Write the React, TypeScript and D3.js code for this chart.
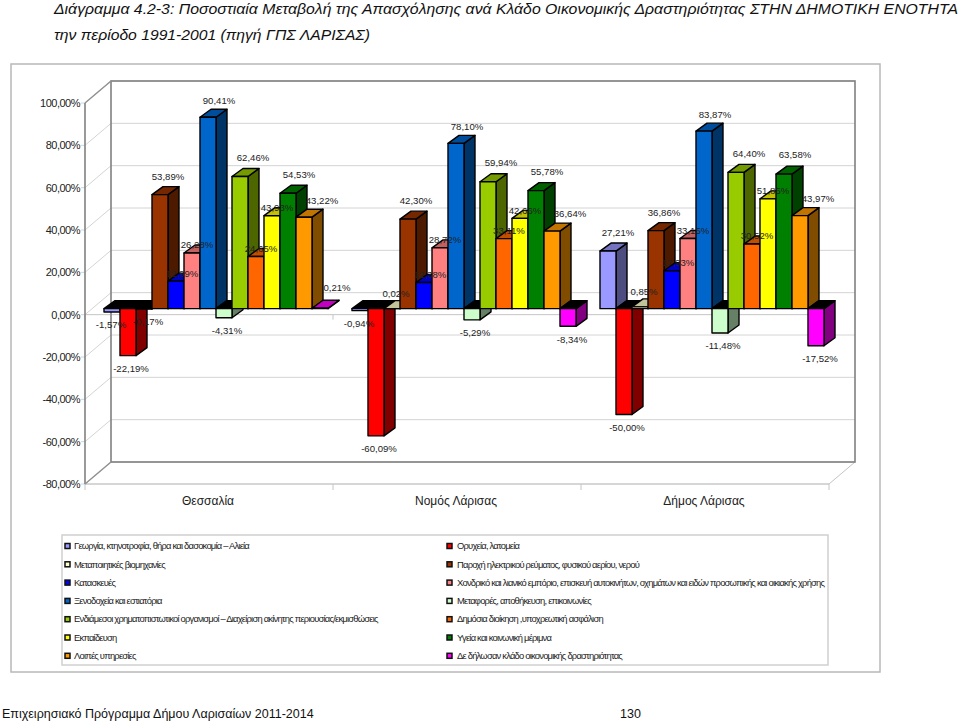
import React from "react";
import * as d3 from "d3";

const categories = ["Θεσσαλία", "Νομός Λάρισας", "Δήμος Λάρισας"];
const seriesNames = [
  "Γεωργία, κτηνοτροφία, θήρα και δασοκομία – Αλιεία",
  "Ορυχεία, λατομεία",
  "Μεταποιητικές  βιομηχανίες",
  "Παροχή ηλεκτρικού ρεύματος, φυσικού αερίου, νερού",
  "Κατασκευές",
  "Χονδρικό και λιανικό εμπόριο, επισκευή αυτοκινήτων, οχημάτων και ειδών προσωπικής και οικιακής χρήσης",
  "Ξενοδοχεία  και εστιατόρια",
  "Μεταφορές, αποθήκευση, επικοινωνίες",
  "Ενδιάμεσοι χρηματοπιστωτικοί οργανισμοί – Διαχείριση ακίνητης περιουσίας/εκμισθώσεις",
  "Δημόσια διοίκηση ,υποχρεωτική ασφάλιση",
  "Εκπαίδευση",
  "Υγεία και κοινωνική μέριμνα",
  "Λοιπές υπηρεσίες",
  "Δε δήλωσαν κλάδο οικονομικής δραστηριότητας",
];
const seriesColors = ["#9999FF", "#FF0000", "#FFFFCC", "#993300", "#0000FF", "#FF8080", "#0066CC", "#CCFFCC", "#99CC00", "#FF6600", "#FFFF00", "#008000", "#FF9900", "#FF00FF"];
const thessalia = [-1.57, -22.19, -0.17, 53.89, 12.99, 26.28, 90.41, -4.31, 62.46, 24.65, 43.93, 54.53, 43.22, 0.21];
const nomos = [-0.94, -60.09, 0.02, 42.3, 12.38, 28.72, 78.1, -5.29, 59.94, 33.11, 42.66, 55.78, 36.64, -8.34];
const dimos = [27.21, -50.0, 0.85, 36.86, 17.93, 33.15, 83.87, -11.48, 64.4, 30.52, 51.85, 63.58, 43.97, -17.52];
const groupValues = [thessalia, nomos, dimos];
const yTicks = [100, 80, 60, 40, 20, 0, -20, -40, -60, -80];
const titleLines = [
  "Διάγραμμα 4.2-3: Ποσοστιαία Μεταβολή της Απασχόλησης ανά Κλάδο Οικονομικής Δραστηριότητας ΣΤΗΝ ΔΗΜΟΤΙΚΗ ΕΝΟΤΗΤΑ",
  "την περίοδο 1991-2001 (πηγή ΓΠΣ ΛΑΡΙΣΑΣ)",
];
const footerLeft = "Επιχειρησιακό Πρόγραμμα Δήμου Λαρισαίων 2011-2014";
const footerPage = "130";

// label placement, per series, relative to the bar
const labelShiftUp = [10, 3, 4, 8, 6, 5, 11, 3, 13, 5, 5, 11, 18, 17];
const labelShiftDown = [-1, 3, 4, 8, 6, 5, 11, 3, 13, 5, 5, 11, 18, 4];
const labelRise = [18, 18, 15, 18, 8, 8, 17, 18, 19, 8, 8, 19, 17, 21];

const font = "'Liberation Sans', Arial, sans-serif";
const left = 85, right = 829, top = 103, bottom = 484;
const wallDx = 26, wallDy = -22;
const planeDx = 7, planeDy = -6;
const barDx = 11, barDy = -8;

const y = d3.scaleLinear().domain([-80, 100]).range([bottom, top]);
const xGroup = d3.scaleBand<string>().domain(categories).range([left, right]);
const xBar = d3.scaleBand<string>().domain(seriesNames).range([12, 236]);
const pct = (v: number) => d3.format(".2f")(v).replace("−", "-").replace(".", ",") + "%";
const poly = (pts: number[][]) => pts.map((p) => p.join(",")).join(" ");
const shade = (c: string, f: number) => {
  const r = d3.rgb(c);
  return d3.rgb(r.r * f, r.g * f, r.b * f).formatHex();
};

function Bar({ x, w, v, color }: { x: number; w: number; v: number; color: string }) {
  const y0 = y(0) + planeDy;
  const y1 = y(v) + planeDy;
  const t = Math.min(y0, y1);
  const b = Math.max(y0, y1);
  const sw = 1.4;
  return (
    <g stroke="#000" strokeWidth={sw} strokeLinejoin="round">
      <polygon points={poly([[x + w, t], [x + w + barDx, t + barDy], [x + w + barDx, b + barDy], [x + w, b]])} fill={shade(color, 0.5)} />
      <polygon points={poly([[x, t], [x + barDx, t + barDy], [x + w + barDx, t + barDy], [x + w, t]])} fill={v < 0 ? "#000" : shade(color, 0.76)} />
      <rect x={x} y={t} width={w} height={b - t} fill={color} />
    </g>
  );
}

export default function App() {
  const w = xBar.bandwidth();
  const legendRows = d3.range(7);
  return (
    <svg width={960} height={721} viewBox="0 0 960 721" style={{ position: "absolute", left: 0, top: 0, background: "#fff" }} fontFamily={font}>
      <text x={54} y={14} fontSize={15.5} fontStyle="italic" fill="#111" textLength={904} lengthAdjust="spacingAndGlyphs">{titleLines[0]}</text>
      <text x={54} y={40} fontSize={15.5} fontStyle="italic" fill="#111" textLength={316} lengthAdjust="spacingAndGlyphs">{titleLines[1]}</text>

      <rect x={11} y={64} width={869} height={608} fill="none" stroke="#b8b8b8" strokeWidth={1.5} />

      {/* back wall grid */}
      {yTicks.map((t) => (
        <g key={t} stroke="#d4d4d4" strokeWidth={1}>
          <line x1={left + wallDx} x2={right + wallDx} y1={y(t) + wallDy} y2={y(t) + wallDy} />
          <line x1={left} x2={left + wallDx} y1={y(t)} y2={y(t) + wallDy} />
          <line x1={left - 4} x2={left} y1={y(t)} y2={y(t)} />
        </g>
      ))}
      {/* floor and ticks */}
      <line x1={left} x2={right} y1={y(0)} y2={y(0)} stroke="#c4c4c4" />
      <line x1={left} x2={right} y1={bottom} y2={bottom} stroke="#c8c8c8" strokeWidth={1.5} />
      {[...categories.map((c) => xGroup(c)!), right].map((tx) => (
        <g key={tx} stroke="#c4c4c4">
          <line x1={tx} x2={tx} y1={y(0)} y2={y(0) + 5} />
          <line x1={tx} x2={tx} y1={bottom} y2={bottom + 6} />
        </g>
      ))}
      <line x1={right} x2={right + wallDx} y1={bottom} y2={bottom + wallDy} stroke="#c4c4c4" />
      {/* walls */}
      <rect x={left + wallDx} y={top + wallDy} width={right - left} height={bottom - top} fill="none" stroke="#808080" strokeWidth={1.6} />
      <line x1={left} x2={left} y1={top} y2={bottom} stroke="#808080" strokeWidth={1.6} />
      <line x1={left} x2={left + wallDx} y1={top} y2={top + wallDy} stroke="#909090" strokeWidth={1.4} />
      <line x1={left} x2={left + wallDx} y1={bottom} y2={bottom + wallDy} stroke="#909090" strokeWidth={1.4} />

      {/* bars */}
      {categories.map((c, gi) =>
        seriesNames.map((s, si) => (
          <Bar key={c + s} x={xGroup(c)! + planeDx + xBar(s)!} w={w} v={groupValues[gi][si]} color={seriesColors[si]} />
        ))
      )}

      {/* y tick labels */}
      {yTicks.map((t) => (
        <text key={t} x={80} y={y(t)} dy="0.35em" textAnchor="end" fontSize={11} letterSpacing={-0.5} fill="#222">
          {pct(t)}
        </text>
      ))}

      {/* data labels */}
      {categories.map((c, gi) =>
        seriesNames.map((s, si) => {
          const v = groupValues[gi][si];
          const cx = xGroup(c)! + planeDx + xBar(s)! + w / 2;
          const yv = y(v) + planeDy;
          return (
            <text
              key={c + s}
              x={cx + (v < 0 ? labelShiftDown[si] : labelShiftUp[si])}
              y={v < 0 ? yv + 13 : yv - labelRise[si]}
              dy="0.35em"
              textAnchor="middle"
              fontSize={9.6}
              fill="#222"
            >
              {pct(v)}
            </text>
          );
        })
      )}

      {/* category labels */}
      {categories.map((c) => (
        <text key={c} x={xGroup(c)! + xGroup.bandwidth() / 2 - 1} y={505} textAnchor="middle" fontSize={12} fill="#222">
          {c}
        </text>
      ))}

      {/* legend */}
      <rect x={62} y={535} width={766} height={130} fill="#fff" stroke="#d0d0d0" strokeWidth={1.5} />
      {legendRows.map((r) =>
        [0, 1].map((col) => {
          const i = r * 2 + col;
          const ly = 546 + r * 18.3;
          const mx = col === 0 ? 65 : 447;
          return (
            <g key={i}>
              <rect x={mx} y={ly - 2.5} width={5} height={5} fill={seriesColors[i]} stroke="#111" strokeWidth={1.5} />
              <text x={mx + (col === 0 ? 9 : 10)} y={ly} dy="0.35em" fontSize={9.4} letterSpacing={-0.78} fill="#222">
                {seriesNames[i]}
              </text>
            </g>
          );
        })
      )}

      {/* footer */}
      <text x={2} y={718} fontSize={12.5} fill="#111">{footerLeft}</text>
      <text x={620} y={718} fontSize={12.5} fill="#111">{footerPage}</text>
    </svg>
  );
}
